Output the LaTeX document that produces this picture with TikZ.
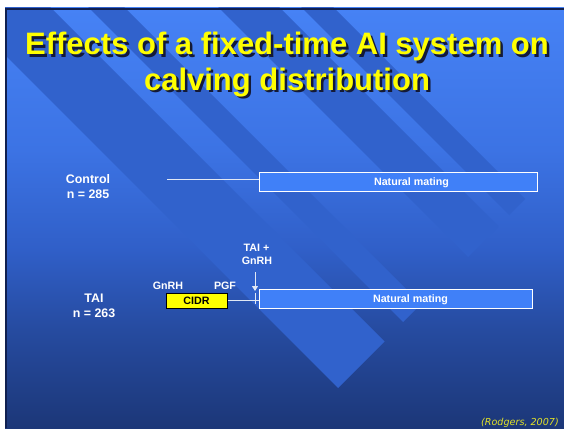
\documentclass[tikz,border=0pt]{standalone}
\usepackage{fontspec}
\setmainfont{Liberation Sans}
\newfontfamily\citefont{DejaVu Sans}
\usetikzlibrary{arrows.meta}
\definecolor{bgtop}{RGB}{70,130,245}
\definecolor{bgb}{RGB}{60,115,228}
\definecolor{bgc}{RGB}{48,95,200}
\definecolor{bgd}{RGB}{38,75,160}
\definecolor{bgbot}{RGB}{28,55,120}
\definecolor{bandcol}{RGB}{49,98,204}
\definecolor{boxblue}{RGB}{64,128,248}
\definecolor{framecol}{RGB}{16,32,80}
\definecolor{titleyellow}{RGB}{255,255,0}
\definecolor{citeyellow}{RGB}{225,225,40}
\definecolor{linecol}{RGB}{225,232,245}
\definecolor{shadowcol}{RGB}{20,26,55}
\newcommand{\shadowed}[1]{\makebox[0pt][l]{\hspace{2.5pt}\raisebox{-2.5pt}{\color{shadowcol}#1}}#1}
\pgfdeclareverticalshading{slidebg}{100bp}{color(0bp)=(bgbot); color(25bp)=(bgbot); color(36.7bp)=(bgd); color(46.2bp)=(bgc); color(58.1bp)=(bgb); color(75bp)=(bgtop); color(100bp)=(bgtop)}
\begin{document}
\begin{tikzpicture}[x=1pt,y=-1pt,
  titletext/.style={font=\bfseries\fontsize{31}{35}\selectfont, text=titleyellow, inner sep=0, anchor=base},
  grouplbl/.style={font=\bfseries\fontsize{12.4}{14}\selectfont, text=white, inner sep=0, anchor=base},
  smalllbl/.style={font=\bfseries\fontsize{10.7}{12}\selectfont, text=white, inner sep=0, anchor=base},
  matebox/.style={draw=white, line width=1.1pt, fill=boxblue, inner sep=0, anchor=north west},
  cidrbox/.style={draw=black, line width=1pt, fill=titleyellow, inner sep=0, anchor=north west},
  conn/.style={draw=linecol, line width=1pt},
  bandshape/.style={fill=bandcol}
]
\useasboundingbox (0,0) rectangle (564,428);
\fill[white] (0,0) rectangle (564,428);
% slide background
\shade[shading=slidebg] (5,8) rectangle (564,428);
\begin{scope}
  \clip (5,8) rectangle (564,428);
  \fill[bandshape] (-50,0) -- (338,388) -- (384.5,341.5) -- (43,0) -- cycle;
  \fill[bandshape] (81,0) -- (403,322) -- (421,304) -- (117,0) -- cycle;
  \fill[bandshape] (211,0) -- (468,257) -- (498.5,226.5) -- (272,0) -- cycle;
  \fill[bandshape] (294,0) -- (509,215) -- (525,199) -- (326,0) -- cycle;
\end{scope}
\draw[framecol, line width=2pt] (6,428) -- (6,9) -- (564,9);
% title
\node[titletext] (title1) at (287,55) {\shadowed{Effects of a fixed-time AI system on}};
\node[titletext] (title2) at (287,90) {\shadowed{calving distribution}};
% control row
\node[grouplbl] (ctrl) at (88,183) {Control};
\node[grouplbl] (ctrln) at (88,198) {n = 285};
\node[matebox, minimum width=278pt, minimum height=19pt] (ctrlbox) at (259,172) {};
\node[smalllbl] (ctrlmate) at (411.5,185.5) {Natural mating};
\coordinate (ctrlstart) at (167,179);
\draw[conn] (ctrlstart) -- (ctrlstart -| ctrlbox.west);
% TAI row
\node[grouplbl] (tai) at (94,302) {TAI};
\node[grouplbl] (tain) at (94,317) {n = 263};
\node[cidrbox, minimum width=61pt, minimum height=15pt] (cidr) at (166,292.5) {};
\node[font=\bfseries\fontsize{10.7}{12}\selectfont, text=black, inner sep=0, anchor=base] (cidrtxt) at (196.5,304) {CIDR};
\node[smalllbl] (gnrh1) at (168,289) {GnRH};
\node[smalllbl] (pgf) at (225,289) {PGF};
\node[matebox, minimum width=273pt, minimum height=19pt] (taibox) at (259,289) {};
\node[smalllbl] (taimate) at (410.5,302) {Natural mating};
\draw[conn] (cidr.east) -- (cidr.east -| taibox.west);
\coordinate (ticktop) at (255,292.5);
\coordinate (tickbot) at (255,303.5);
\draw[conn] (ticktop) -- (tickbot);
\node[smalllbl] (taiplus) at (256.5,251) {TAI +};
\node[smalllbl] (gnrh2) at (257,264) {GnRH};
\coordinate (arrowstart) at (255,272);
\coordinate (arrowend) at (255,291);
\draw[conn, -{Triangle[width=6pt,length=5pt]}, linecol] (arrowstart) -- (arrowend);
% citation
\node[font=\citefont\itshape\fontsize{9.6}{11}\selectfont, text=citeyellow, inner sep=0, anchor=base east] (cite) at (559,425) {(Rodgers, 2007)};
\end{tikzpicture}
\end{document}
